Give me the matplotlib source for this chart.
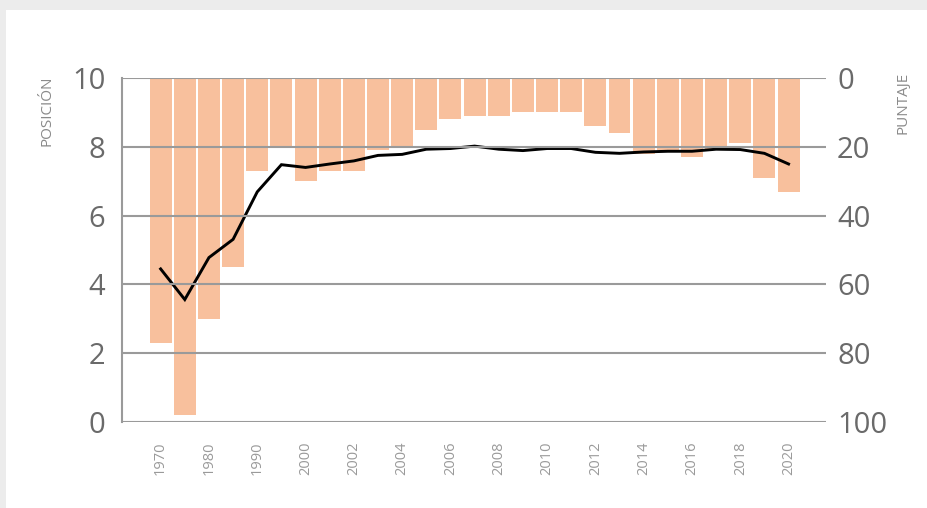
import numpy as np
import matplotlib.pyplot as plt
from matplotlib.patches import Rectangle

plt.rcParams['font.family'] = ['Open Sans', 'DejaVu Sans']

years = ['1970', '1975', '1980', '1985', '1990', '1995', '2000', '2001', '2002',
         '2003', '2004', '2005', '2006', '2007', '2008', '2009', '2010', '2011',
         '2012', '2013', '2014', '2015', '2016', '2017', '2018', '2019', '2020']
puntaje = [77, 98, 70, 55, 27, 20, 30, 27, 27, 21, 20, 15, 12, 11, 11, 10, 10, 10,
           14, 16, 22, 21, 23, 20.5, 19, 29, 33]
posicion = [4.45, 3.56, 4.78, 5.31, 6.69, 7.48, 7.40, 7.50, 7.59, 7.75, 7.78, 7.93,
            7.95, 8.02, 7.93, 7.89, 7.95, 7.95, 7.84, 7.81, 7.85, 7.87, 7.87, 7.93,
            7.92, 7.81, 7.50]

bar_color = '#f8c09d'
grid_color = '#9a9a9a'
text_color = '#6a6a6a'

fig = plt.figure(figsize=(9.28, 5.08), dpi=100, facecolor='#ececec')
fig.patches.append(Rectangle((6 / 928, 0), 1, 1 - 10 / 508, transform=fig.transFigure,
                             facecolor='white', edgecolor='none', zorder=-10))

ax = fig.add_axes([122 / 928, 1 - 422 / 508, (826 - 122) / 928, (422 - 78) / 508])
ax2 = ax.twinx()
ax2.set_zorder(ax.get_zorder() - 1)
ax.patch.set_visible(False)
ax2.patch.set_visible(False)

x = np.arange(len(years))
ax2.bar(x, puntaje, width=0.91, color=bar_color, linewidth=0)
ax2.set_ylim(100, 0)
ax2.set_yticks([0, 20, 40, 60, 80, 100])

ax.plot(x, posicion, color='black', linewidth=2.1, solid_joinstyle='miter')
ax.set_ylim(0, 10)
ax.set_yticks([0, 2, 4, 6, 8, 10])
ax.set_xlim(-1.6, 27.55)
ax.set_xticks(x[::2])
ax.set_xticklabels(years[::2], rotation=90)

ax.grid(axis='y', color=grid_color, linewidth=1.5)
ax.set_axisbelow(False)

for a in (ax, ax2):
    for s in a.spines.values():
        s.set_visible(False)
    a.tick_params(length=0)
ax.spines['left'].set_visible(True)
ax.spines['left'].set_color(grid_color)
ax.spines['left'].set_linewidth(1.5)

ax.tick_params(axis='y', labelsize=21, labelcolor=text_color, pad=12)
ax2.tick_params(axis='y', labelsize=21, labelcolor=text_color, pad=8)
ax.tick_params(axis='x', labelsize=10.5, labelcolor='#9a9a9a', pad=14)

fig.text(47 / 928, 1 - 75 / 508, 'POSICIÓN', rotation=90, ha='center', va='top',
         fontsize=11, color='#8a8a8a')
fig.text(903 / 928, 1 - 72 / 508, 'PUNTAJE', rotation=90, ha='center', va='top',
         fontsize=11, color='#8a8a8a')

fig.savefig('out.png', dpi=100, facecolor=fig.get_facecolor())
